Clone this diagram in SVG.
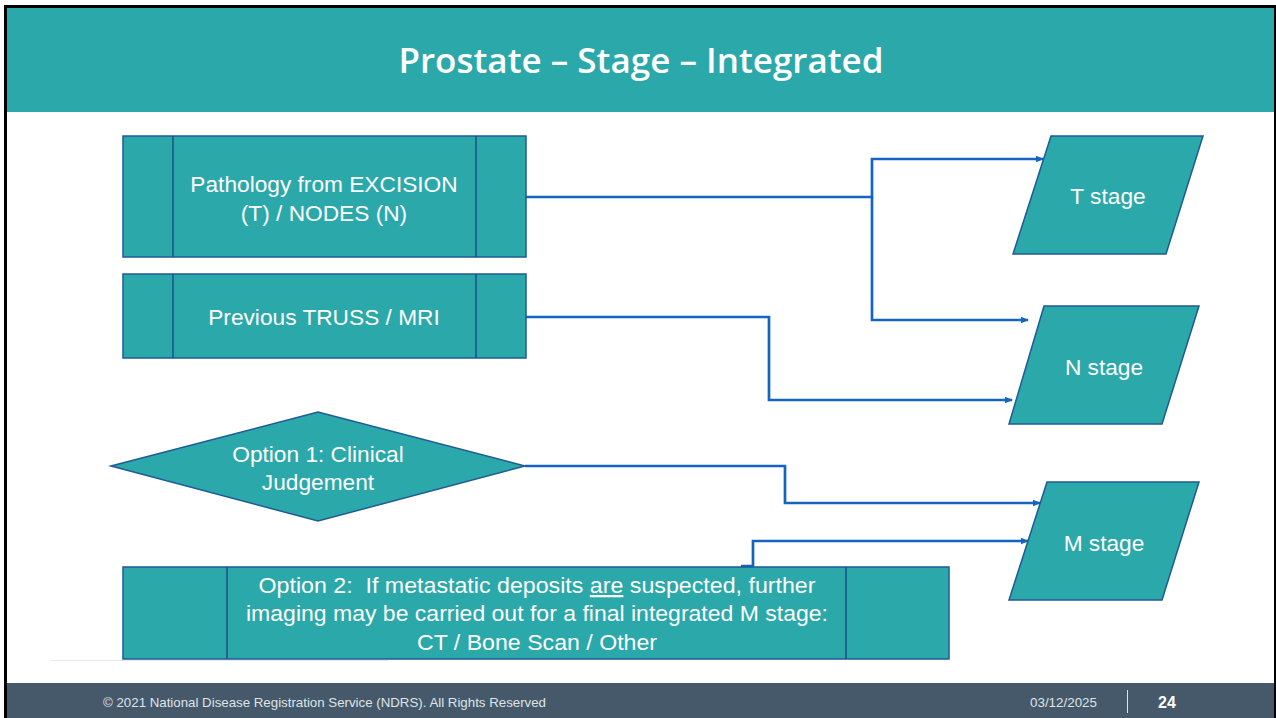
<svg xmlns="http://www.w3.org/2000/svg" width="1276" height="718" viewBox="0 0 1276 718">
  <style>
    .box { fill: #2BA8AA; stroke: #1F5A96; stroke-width: 1.5; }
    .div { stroke: #1B4F86; stroke-width: 1.5; }
    .lbl { font-family: "Liberation Sans", Arial, sans-serif; font-size: 22.7px; fill: #ffffff; text-anchor: middle; white-space: pre; }
    .wire { fill: none; stroke: #1565C0; stroke-width: 2.7; }
    .foot { font-family: "Liberation Sans", Arial, sans-serif; font-size: 13px; fill: #dfe4e8; }
  </style>
  <defs>
    <marker id="arrow" markerWidth="8" markerHeight="8" refX="7" refY="4" orient="auto" markerUnits="userSpaceOnUse">
      <path d="M0,0.8 L8,4 L0,7.2 Z" fill="#1565C0"/>
    </marker>
  </defs>

  <!-- page background and frame -->
  <rect x="0" y="0" width="1276" height="718" fill="#ffffff"/>
  <rect x="7" y="8" width="1267" height="104" fill="#2BA8AA"/>
  <rect x="7" y="683" width="1267" height="35" fill="#45596A"/>
  <rect x="4" y="5" width="1272" height="3" fill="#000000"/>
  <rect x="4" y="5" width="3" height="713" fill="#000000"/>
  <rect x="1274" y="5" width="2" height="713" fill="#000000"/>

  <text x="641" y="73" font-family="'Open Sans', 'Noto Sans', sans-serif" font-size="35" font-weight="600" fill="#ffffff" text-anchor="middle" textLength="485" lengthAdjust="spacingAndGlyphs">Prostate – Stage – Integrated</text>

  <!-- connectors -->
  <g id="connectors">
    <path class="wire" d="M526,197 H872 V159 H1043" marker-end="url(#arrow)"/>
    <path class="wire" d="M872,197 V320 H1028" marker-end="url(#arrow)"/>
    <path class="wire" d="M526,317 H769 V400 H1012" marker-end="url(#arrow)"/>
    <path class="wire" d="M525,466 H785 V503 H1040" marker-end="url(#arrow)"/>
    <path class="wire" d="M741,566 H753 V541 H1028" marker-end="url(#arrow)"/>
  </g>

  <!-- sources -->
  <g id="pathology">
    <rect class="box" x="123" y="136" width="403" height="121"/>
    <line class="div" x1="173" y1="136" x2="173" y2="257"/>
    <line class="div" x1="476" y1="136" x2="476" y2="257"/>
    <text class="lbl" x="324" y="192">Pathology from EXCISION</text>
    <text class="lbl" x="324" y="221">(T) / NODES (N)</text>
  </g>

  <g id="truss-mri">
    <rect class="box" x="123" y="274" width="403" height="84"/>
    <line class="div" x1="173" y1="274" x2="173" y2="358"/>
    <line class="div" x1="476" y1="274" x2="476" y2="358"/>
    <text class="lbl" x="324" y="325">Previous TRUSS / MRI</text>
  </g>

  <g id="option1">
    <polygon class="box" points="111,466 318,412 525,466 318,521"/>
    <text class="lbl" x="318" y="462">Option 1: Clinical</text>
    <text class="lbl" x="318" y="490">Judgement</text>
  </g>

  <g id="option2">
    <rect class="box" x="123" y="567" width="826" height="92"/>
    <line class="div" x1="227" y1="567" x2="227" y2="659"/>
    <line class="div" x1="846" y1="567" x2="846" y2="659"/>
    <text class="lbl" x="537" y="593" textLength="557" lengthAdjust="spacingAndGlyphs" xml:space="preserve">Option 2:  If metastatic deposits <tspan text-decoration="underline">are</tspan> suspected, further</text>
    <text class="lbl" x="537" y="621" textLength="582" lengthAdjust="spacingAndGlyphs">imaging may be carried out for a final integrated M stage:</text>
    <text class="lbl" x="537" y="650" textLength="240" lengthAdjust="spacingAndGlyphs">CT / Bone Scan / Other</text>
  </g>

  <!-- outputs -->
  <g id="t-stage">
    <polygon class="box" points="1051,136 1203,136 1166,254 1013,254"/>
    <text class="lbl" x="1108" y="204">T stage</text>
  </g>
  <g id="n-stage">
    <polygon class="box" points="1044,306 1199,306 1162,424 1009,424"/>
    <text class="lbl" x="1104" y="375">N stage</text>
  </g>
  <g id="m-stage">
    <polygon class="box" points="1047,482 1199,482 1162,600 1009,600"/>
    <text class="lbl" x="1104" y="551">M stage</text>
  </g>

  <!-- footer -->
  <line x1="50" y1="660.5" x2="388" y2="660.5" stroke="#e3e8f3" stroke-width="1"/>
  <text class="foot" x="103" y="707" textLength="443" lengthAdjust="spacingAndGlyphs">© 2021 National Disease Registration Service (NDRS). All Rights Reserved</text>
  <text class="foot" x="1030" y="707" textLength="67" lengthAdjust="spacingAndGlyphs">03/12/2025</text>
  <line x1="1127.5" y1="690" x2="1127.5" y2="713" stroke="#dfe4e8" stroke-width="1"/>
  <text x="1158" y="708" font-family="'Liberation Sans', Arial, sans-serif" font-size="16" font-weight="bold" fill="#ffffff">24</text>
</svg>
